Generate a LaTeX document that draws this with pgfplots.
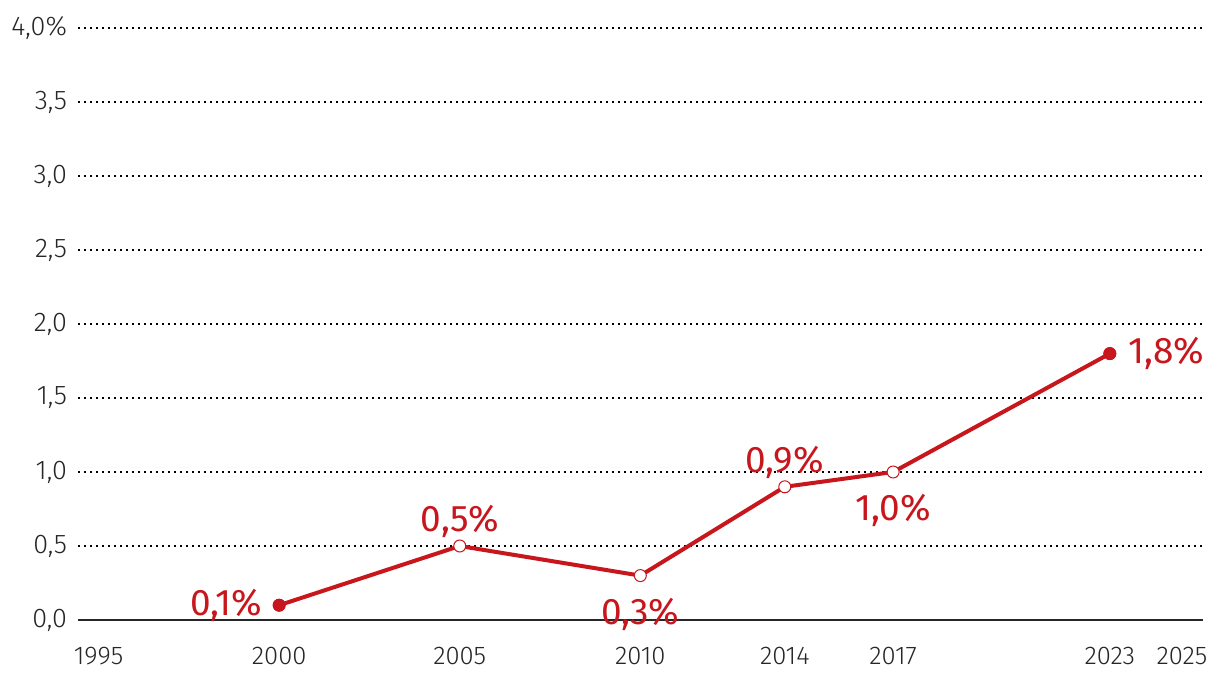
\documentclass[border=0pt]{standalone}
\usepackage{pgfplots}
\pgfplotsset{compat=1.18}
\usepackage{fontspec}
\setmainfont{Fira Sans}[UprightFont={* Light}]
\newfontfamily\labfont{Fira Sans}
\definecolor{lred}{HTML}{C8161D}
\definecolor{tgray}{HTML}{262626}
\begin{document}
\begin{tikzpicture}
\useasboundingbox (-39bp,-33bp) rectangle (571bp,310bp);
\begin{axis}[
  scale only axis,
  width=562.5bp, height=296bp,
  xmin=1994.43, xmax=2025.58,
  ymin=0, ymax=4,
  axis x line*=bottom,
  axis y line*=left,
  axis line style={draw=none},
  xtick={1995,2000,2005,2010,2014,2017,2023,2025},
  xticklabels={1995,2000,2005,2010,2014,2017,2023,2025},
  ytick={0,0.5,1,1.5,2,2.5,3,3.5,4},
  yticklabels={{0,0},{0,5},{1,0},{1,5},{2,0},{2,5},{3,0},{3,5},{4,0\%}},
  major tick length=0pt,
  ymajorgrids,
  tick style={draw=none},
  grid style={black, line width=0.9bp, dash pattern=on 0.9bp off 2.1bp},
  tick label style={font=\fontsize{12.8bp}{14bp}\selectfont, text=tgray},
  xticklabel style={yshift=-10bp},
  yticklabel style={font=\fontsize{13.5bp}{15bp}\selectfont, xshift=-2bp},
  clip=false,
]
\draw[tgray, line width=1bp] (axis cs:1994.43,0) -- (axis cs:2025.58,0);
\addplot[lred, line width=2bp, mark=*, mark size=3bp,
  mark options={fill=white, line width=0.5bp}]
  coordinates {(2000,0.1) (2005,0.5) (2010,0.3) (2014,0.9) (2017,1.0) (2023,1.8)};
\addplot[only marks, lred, mark=*, mark size=3bp, mark options={fill=lred}]
  coordinates {(2000,0.1) (2023,1.8)};
\begin{scope}[every node/.style={text=lred, font=\labfont\fontsize{18.5bp}{20bp}\selectfont, inner sep=0pt}]
\node[anchor=east] at (axis cs:1999.55,0.1) {0,1\%};
\node[anchor=base] at (axis cs:2005,0.6) {0,5\%};
\node[anchor=base] at (axis cs:2010,-0.03) {0,3\%};
\node[anchor=base] at (axis cs:2014,1.0) {0,9\%};
\node[anchor=base] at (axis cs:2017,0.67) {1,0\%};
\node[anchor=west] at (axis cs:2023.5,1.8) {1,8\%};
\end{scope}
\end{axis}
\end{tikzpicture}
\end{document}
